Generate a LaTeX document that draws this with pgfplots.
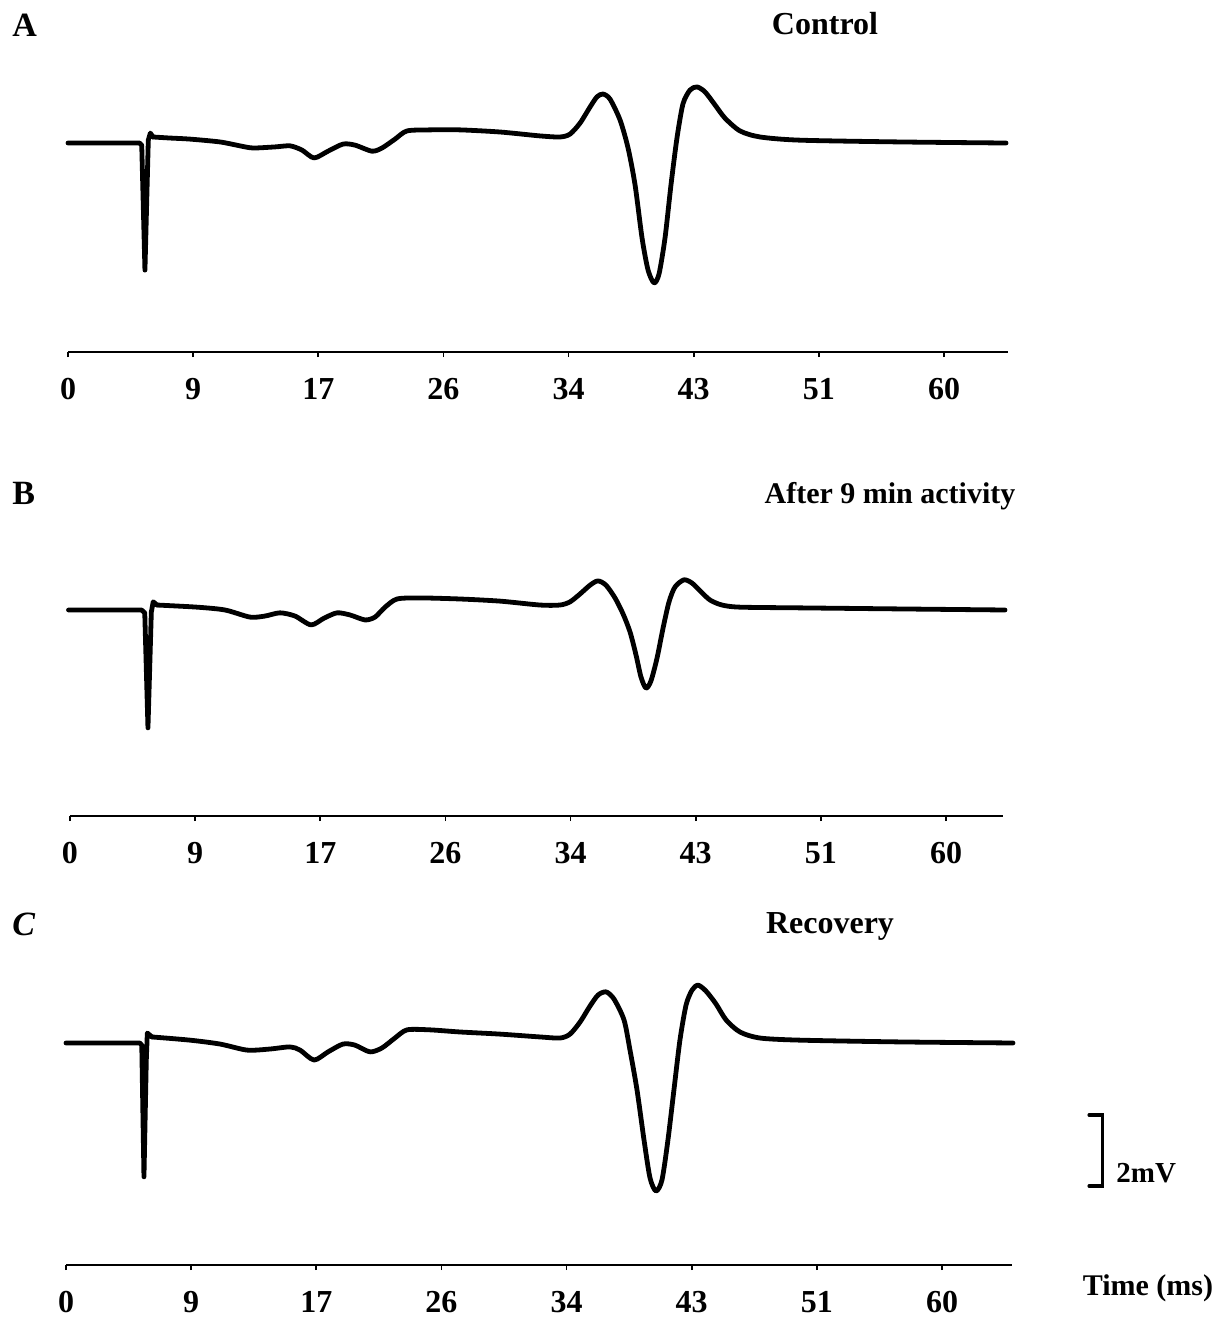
\documentclass[border=0pt]{standalone}
\usepackage{pgfplots}
\pgfplotsset{compat=1.18}
\usepackage{fontspec}
\setmainfont{Liberation Serif}
\def\u{0.5pt}
\pgfplotsset{
  trace/.style={black, line width=2.4pt, line join=round, line cap=round, no markers},
  panel/.style={
    x=7.3pt, y=17.75pt, xmin=0, ymax=2,
    axis x line*=bottom, axis y line=none,
    xtick={0,8.5714,17.1429,25.7143,34.2857,42.8571,51.4286,60},
    xticklabels={0,9,17,26,34,43,51,60},
    minor x tick num=1,
    tick align=outside, major tick length=2.5pt, minor tick length=2.5pt,
    every tick/.append style={black, line width=0.9pt},
    axis line style={black, line width=1.1pt},
    /pgf/number format/assume math mode=true,
    xticklabel style={font=\fontsize{16}{18}\selectfont\bfseries, yshift=-7pt},
    clip=false, anchor=south west,
  }
}
\begin{document}
\begin{tikzpicture}
\useasboundingbox (0,0) rectangle ({1229*\u},{-1318*\u});
% Panel A
\begin{axis}[panel, at={({68*\u},{-352*\u})}, xmax=64.38, ymin=-5.887]
\addplot[trace] coordinates {(0,0) (4.90,0) (5.05,-0.06) (5.27,-3.58) (5.50,0.08) (5.64,0.28) (5.82,0.17)};
\addplot[trace, smooth, tension=0.45] coordinates {
(5.82,0.17) (6.99,0.14) (8.36,0.11) (10.41,0.03) (11.78,-0.08) (12.67,-0.14) (14.18,-0.11) (15.21,-0.08) (16.03,-0.20) (16.85,-0.42) (17.81,-0.23) (18.84,-0.03) (19.66,-0.06) (20.82,-0.23) (21.51,-0.14) (22.40,0.11) (23.22,0.34) (24.79,0.37) (26.85,0.37) (29.59,0.31) (32.33,0.20) (33.70,0.17) (34.38,0.25) (35.07,0.56) (35.75,1.01) (36.23,1.30) (36.64,1.38) (37.12,1.24) (37.81,0.65) (38.36,-0.14) (38.84,-1.18) (39.32,-2.68) (39.73,-3.58) (40.14,-3.94) (40.48,-3.69) (40.89,-2.68) (41.30,-1.18) (41.71,0.14) (42.12,1.10) (42.60,1.49) (43.08,1.58) (43.63,1.44) (44.32,1.07) (45.00,0.70) (46.03,0.34) (47.40,0.17) (50.14,0.08) (56.99,0.03) (64.25,0)};
\end{axis}
% Panel B
\begin{axis}[panel, at={({70*\u},{-816*\u})}, xmax=63.9, ymin=-5.803]
\addplot[trace] coordinates {(-0.1,0) (4.90,0) (5.12,-0.08) (5.34,-3.32) (5.57,-0.06) (5.70,0.23) (5.96,0.14)};
\addplot[trace, smooth, tension=0.45] coordinates {
(5.96,0.14) (8.70,0.08) (10.62,0) (12.33,-0.20) (13.36,-0.17) (14.38,-0.08) (15.41,-0.17) (16.51,-0.42) (17.40,-0.23) (18.29,-0.08) (19.18,-0.14) (20.21,-0.28) (20.89,-0.20) (21.58,0.08) (22.40,0.31) (23.97,0.34) (26.71,0.31) (29.45,0.25) (32.19,0.14) (33.56,0.14) (34.25,0.23) (34.93,0.45) (35.62,0.70) (36.16,0.82) (36.71,0.70) (37.33,0.34) (37.88,-0.11) (38.36,-0.62) (38.77,-1.27) (39.11,-1.89) (39.45,-2.20) (39.79,-2.00) (40.21,-1.35) (40.62,-0.51) (41.03,0.23) (41.44,0.65) (42.05,0.85) (42.60,0.76) (43.15,0.54) (43.84,0.28) (44.66,0.14) (45.89,0.08) (50.00,0.06) (56.85,0.03) (64.04,0)};
\end{axis}
% Panel C
\begin{axis}[panel, at={({66*\u},{-1265*\u})}, xmax=64.8, ymin=-6.254]
\addplot[trace] coordinates {(0,0) (5.05,0) (5.19,-0.06) (5.34,-3.77) (5.50,-0.48) (5.57,0.28) (5.89,0.17)};
\addplot[trace, smooth, tension=0.45] coordinates {
(5.89,0.17) (8.49,0.08) (10.55,-0.03) (12.40,-0.20) (13.97,-0.17) (15.34,-0.11) (16.03,-0.20) (16.99,-0.48) (17.95,-0.25) (18.97,-0.03) (19.79,-0.06) (20.82,-0.25) (21.64,-0.14) (22.53,0.14) (23.36,0.37) (24.93,0.37) (26.99,0.31) (29.73,0.25) (32.47,0.17) (33.84,0.14) (34.52,0.25) (35.21,0.59) (35.89,1.04) (36.44,1.35) (36.99,1.44) (37.53,1.24) (38.22,0.65) (38.63,-0.20) (39.11,-1.32) (39.59,-2.73) (40.00,-3.80) (40.41,-4.17) (40.82,-3.86) (41.23,-2.73) (41.64,-1.32) (42.05,0.08) (42.47,1.07) (42.88,1.49) (43.29,1.63) (43.84,1.46) (44.52,1.10) (45.21,0.65) (46.16,0.31) (47.53,0.14) (50.27,0.08) (57.12,0.03) (64.86,0)};
% scale bar 2 mV
\draw[black, line width=1.6pt, line cap=round, line join=miter] (axis cs:70.07,-2.03) -- (axis cs:71.0,-2.03) -- (axis cs:71.0,-4.03) -- (axis cs:70.07,-4.03);
\end{axis}
% Texts
\node[anchor=base west, inner sep=0, font=\fontsize{17}{19}\selectfont\bfseries] at ({12*\u},{-36*\u}) {A};
\node[anchor=base, inner sep=0, font=\fontsize{16}{18}\selectfont\bfseries] at ({825*\u},{-34*\u}) {Control};
\node[anchor=base west, inner sep=0, font=\fontsize{17}{19}\selectfont\bfseries] at ({12*\u},{-504*\u}) {B};
\node[anchor=base, inner sep=0, font=\fontsize{15}{17}\selectfont\bfseries] at ({890*\u},{-503*\u}) {After 9 min activity};
\node[anchor=base west, inner sep=0, font=\fontsize{17}{19}\selectfont\bfseries\itshape] at ({12*\u},{-935*\u}) {C};
\node[anchor=base, inner sep=0, font=\fontsize{16}{18}\selectfont\bfseries] at ({830*\u},{-933*\u}) {Recovery};
\node[anchor=base west, inner sep=0, font=\fontsize{14.5}{16}\selectfont\bfseries] at ({1116*\u},{-1182*\u}) {2mV};
\node[anchor=base, inner sep=0, font=\fontsize{15}{17}\selectfont\bfseries] at ({1148*\u},{-1295*\u}) {Time (ms)};
\end{tikzpicture}
\end{document}
